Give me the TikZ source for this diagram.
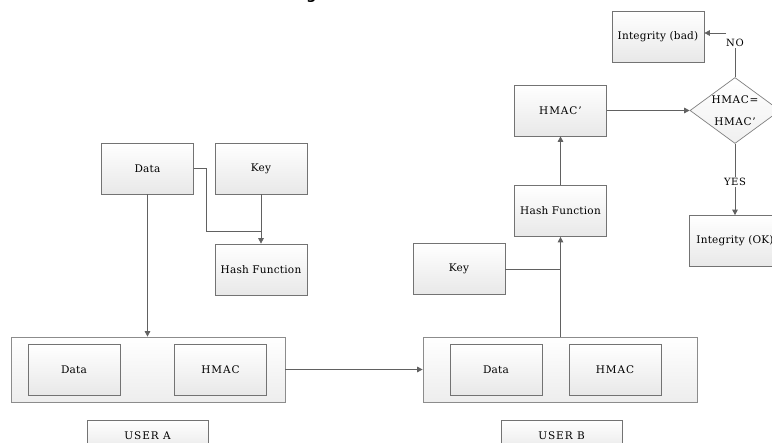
\documentclass[tikz,border=0pt]{standalone}
\usepackage{fontspec}
\setmainfont{DejaVu Serif}
\newfontfamily\headfont{DejaVu Sans}
\usetikzlibrary{arrows.meta,shapes.geometric,shadows}

\tikzset{
  blk/.style={draw=black!55, line width=0.7pt, top color=white, bottom color=black!9,
    inner sep=0pt, minimum width=92pt, minimum height=51pt,
    drop shadow={shadow xshift=0.8pt, shadow yshift=-0.8pt, opacity=0.25},
    font=\fontsize{10.5}{12}\selectfont\addfontfeatures{LetterSpace=2}},
  holder/.style={draw=black!45, line width=0.7pt, top color=white, bottom color=black!7,
    inner sep=0pt, minimum width=274pt, minimum height=65pt},
  userbox/.style={blk, minimum width=121pt, minimum height=32pt},
  wide/.style={font=\fontsize{10.5}{12}\selectfont\addfontfeatures{LetterSpace=9}},
  link/.style={draw=black!62, line width=0.75pt},
  arr/.style={link, -{Triangle[length=5.5pt,width=5.5pt]}},
  tag/.style={inner sep=1pt, font=\fontsize{10}{12}\selectfont\addfontfeatures{LetterSpace=6}}
}

\begin{document}
\begin{tikzpicture}[x=1pt,y=-1pt]
\clip (0,0) rectangle (772,443);
\fill[white] (0,0) rectangle (772,443);

% cut-off heading glyph at the very top
\node[anchor=base, inner sep=0, font=\headfont\bfseries\fontsize{14}{16}\selectfont] (cap) at (311.5,0) {g};

% sender side
\node[blk] (dataA) at (147.5,168.5) {Data};
\node[blk] (keyA) at (261,168.5) {Key};
\node[blk] (hashA) at (261,269.5) {Hash Function};
\node[holder] (contA) at (148,369.5) {};
\node[blk] (dataAin) at (74,370) {Data};
\node[blk, wide] (hmacA) at (220.5,370) {HMAC};
\node[userbox, wide] (userA) at (147.5,436) {USER A};

% receiver side
\node[holder] (contB) at (560,369.5) {};
\node[blk] (dataBin) at (496,370) {Data};
\node[blk, wide] (hmacB) at (615,370) {HMAC};
\node[userbox, wide] (userB) at (561.5,436) {USER B};
\node[blk] (keyB) at (459,269) {Key};
\node[blk] (hashB) at (560.5,211) {Hash Function};
\node[blk, wide] (hmacP) at (560.5,110.5) {HMAC'};

% comparison
\node[diamond, draw=black!50, line width=0.7pt, top color=white, bottom color=black!6,
      inner sep=0pt, minimum width=90pt, minimum height=66pt] (cmp) at (735,110.5) {};
\node[align=center, inner sep=0pt, font=\fontsize{10.5}{22}\selectfont\addfontfeatures{LetterSpace=6}] (cmptxt) at (cmp.center) {HMAC=\\HMAC'};
\node[blk] (bad) at (658,36.5) {Integrity (bad)};
\node[blk] (ok) at (735,241) {Integrity (OK)};
\node[tag] (no) at (735,43) {NO};
\node[tag] (yes) at (735,182) {YES};
\coordinate (nocorner) at (726,33);

% connectors
\draw[arr] (dataA.south) -- (dataA.south |- contA.north);
\draw[link] (dataA.east) -- ++(13,0) coordinate (d1) -- (d1 |- 0,231) coordinate (d2) -- (d2 -| hashA.north);
\draw[arr] (keyA.south) -- (hashA.north);
\draw[arr] (contA.east) -- (contB.west);
\draw[arr] (hashB.south |- contB.north) -- (hashB.south);
\draw[link] (keyB.east) -- (keyB.east -| hashB.south);
\draw[arr] (hashB.north) -- (hmacP.south);
\draw[arr] (hmacP.east) -- (cmp.west);
\draw[link] (cmp.north) -- (no.south);
\draw[arr] (nocorner) -- (nocorner -| bad.east);
\draw[link] (cmp.south) -- (yes.north);
\draw[arr] (yes.south) -- (ok.north);
\end{tikzpicture}
\end{document}
